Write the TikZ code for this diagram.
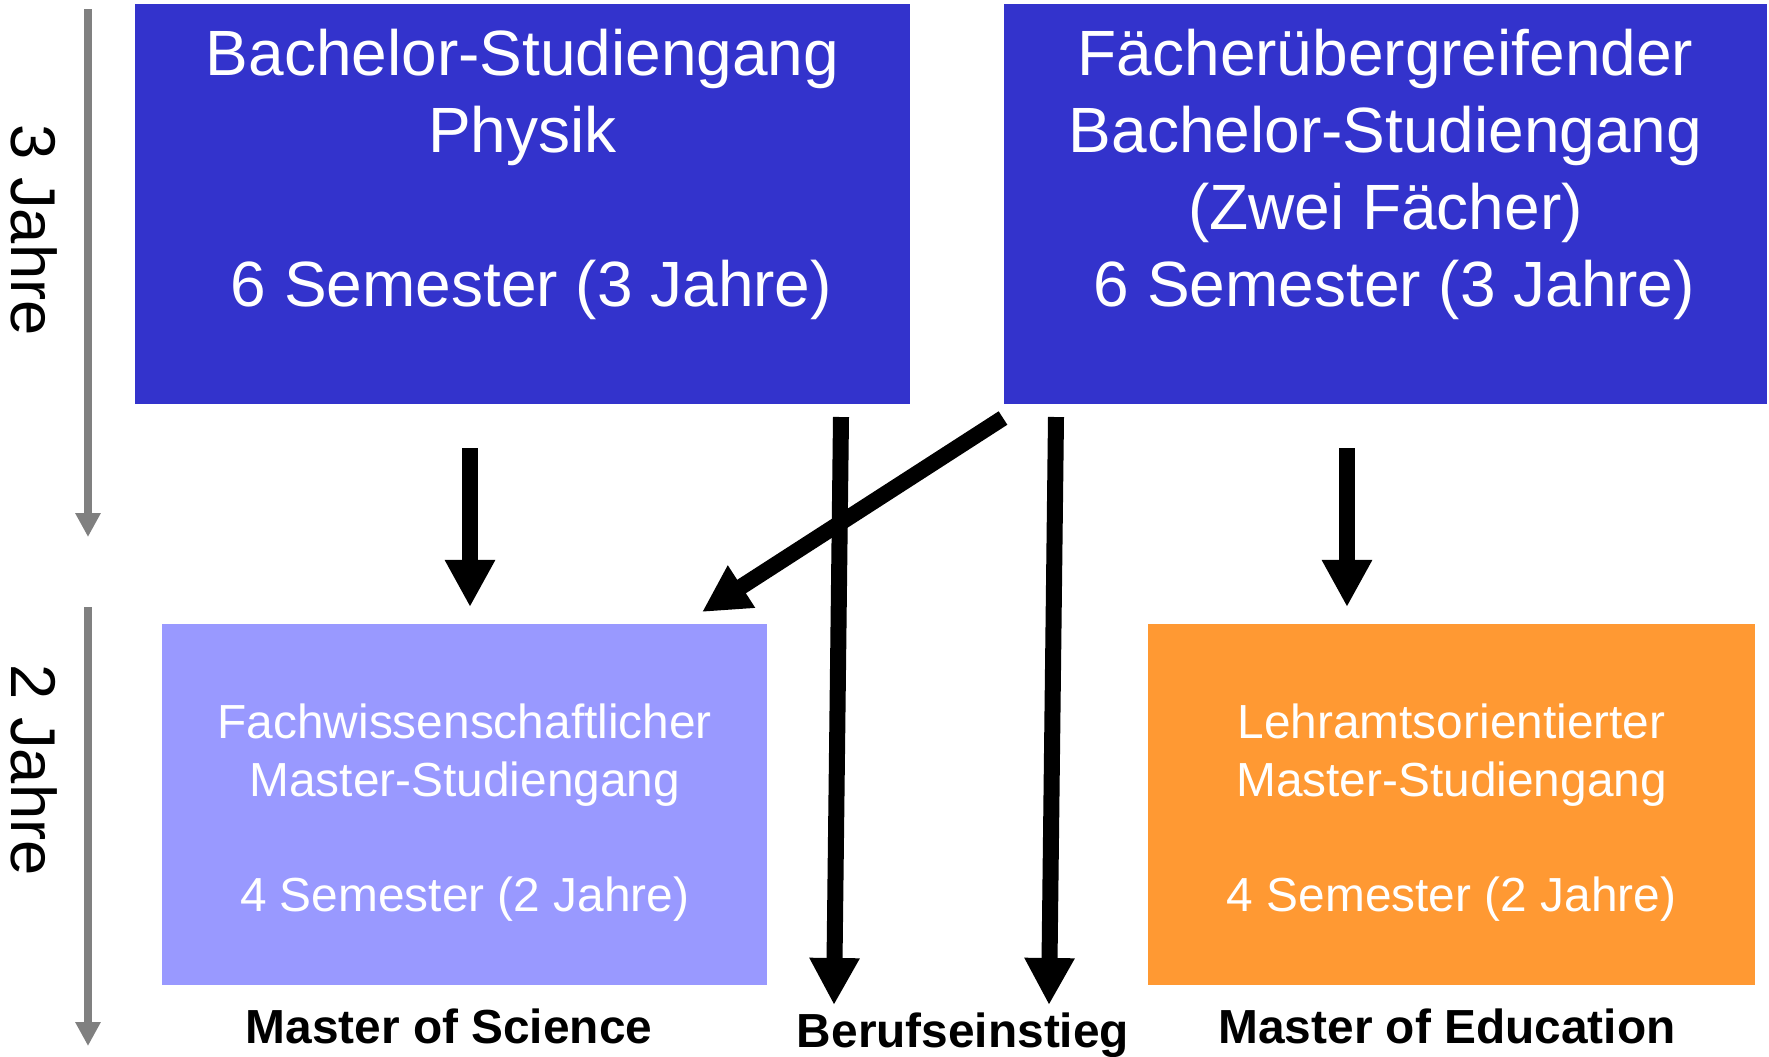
\documentclass[tikz,border=0pt]{standalone}
\usepackage{fontspec}
\setmainfont{Liberation Sans}
\usetikzlibrary{arrows.meta}

\definecolor{bachblue}{HTML}{3333CC}
\definecolor{lilac}{HTML}{9999FF}
\definecolor{lehrorange}{HTML}{FF9933}
\definecolor{timegray}{HTML}{808080}

\begin{document}
\begin{tikzpicture}[x=0.01cm, y=-0.01cm,
  box/.style={rectangle, inner sep=0pt, text=white, align=center},
  bigtext/.style={font=\fontsize{18.2}{21.9}\selectfont, text=white, align=center, inner sep=0pt, anchor=north},
  smalltext/.style={font=\fontsize{13.6}{16.4}\selectfont},
  degree/.style={font=\fontsize{13.6}{16}\selectfont\bfseries, anchor=base, inner sep=0pt},
  years/.style={font=\fontsize{18}{21.9}\selectfont, rotate=-90},
  bigarrow/.style={line width=1.6mm, -{Triangle[length=4.7mm,width=4.7mm]}},
  timearrow/.style={draw=timegray, line width=0.8mm, -{Triangle[length=2.4mm,width=2.4mm]}}]
  \useasboundingbox (0,0) rectangle (1769,1056);

  % Bachelor
  \node[box, fill=bachblue, minimum width=7.75cm, minimum height=3.995cm] (bphys) at (522.5,204.25) {};
  \node[box, fill=bachblue, minimum width=7.63cm, minimum height=3.995cm] (bfue) at (1385.5,204.25) {};
  \node[bigtext] (bphystext) at (522.5,15) {\rule{0pt}{6mm}Bachelor-Studiengang\\Physik\\[21.9pt]\ 6 Semester (3 Jahre)};
  \node[bigtext] (bfuetext) at (1385.5,15) {\rule{0pt}{6mm}Fächerübergreifender\\Bachelor-Studiengang\\(Zwei Fächer)\\\ 6 Semester (3 Jahre)};

  % Master
  \node[box, smalltext, fill=lilac, minimum width=6.045cm, minimum height=3.61cm] (msc) at (464.75,804.5) {\rule{0pt}{5.1mm}Fachwissenschaftlicher\\Master-Studiengang\\[16.4pt]4 Semester (2 Jahre)};
  \node[box, smalltext, fill=lehrorange, minimum width=6.06cm, minimum height=3.61cm] (med) at (1451.5,804.5) {\rule{0pt}{5.1mm}Lehramtsorientierter\\Master-Studiengang\\[16.4pt]4 Semester (2 Jahre)};

  \node[degree] (msclabel) at (449,1043.5) {Master of Science};
  \node[degree] (beruf) at (963,1047) {Berufseinstieg};
  \node[degree] (medlabel) at (1447,1043.5) {Master of Education};

  % time line
  \node[years] (drei) at (34,230) {3 Jahre};
  \node[years] (zwei) at (34,770) {2 Jahre};
  \coordinate (t1) at (88,9);
  \coordinate (t2) at (88,537);
  \coordinate (t3) at (88,607);
  \coordinate (t4) at (88,1046);
  \draw[timearrow] (t1) -- (t2);
  \draw[timearrow] (t3) -- (t4);

  % Uebergaenge
  \coordinate (a1) at (470,448);
  \coordinate (a2) at (470,607);
  \coordinate (b1) at (841,417);
  \coordinate (b2) at (834,1005);
  \coordinate (c1) at (1003,418);
  \coordinate (c2) at (702,612);
  \coordinate (d1) at (1056,417);
  \coordinate (d2) at (1049,1005);
  \coordinate (e1) at (1347,448);
  \coordinate (e2) at (1347,607);
  \draw[bigarrow] (a1) -- (a2);
  \draw[bigarrow] (b1) -- (b2);
  \draw[bigarrow] (c1) -- (c2);
  \draw[bigarrow] (d1) -- (d2);
  \draw[bigarrow] (e1) -- (e2);
\end{tikzpicture}
\end{document}
